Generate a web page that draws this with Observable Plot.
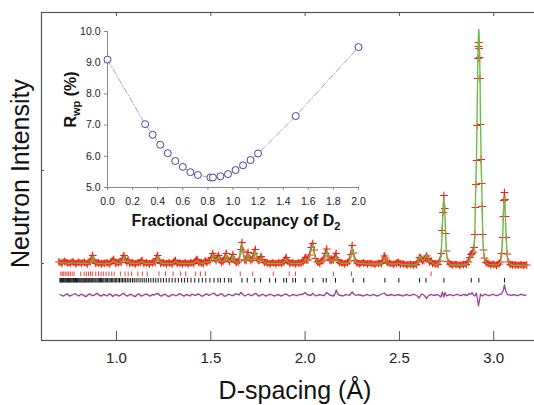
<!DOCTYPE html>
<html>
<head>
<meta charset="utf-8">
<script src="https://cdn.jsdelivr.net/npm/d3@7"></script>
<script src="https://cdn.jsdelivr.net/npm/@observablehq/plot@0.6"></script>
<style>
  html, body { margin: 0; padding: 0; background: #fff; }
  #wrap { position: relative; width: 534px; height: 405px; overflow: hidden; }
  #wrap svg { position: absolute; left: 0; top: 0; }
</style>
</head>
<body>
<div id="wrap"></div>
<script>
// ---------- main pattern data ----------
const xTicks = [1.0, 1.5, 2.0, 2.5, 3.0];
const yTicks = [77, 170];

// [d-spacing, calculated, observed]
const profile = [
  [0.695,78,78.5],[0.71,77.5,77],[0.725,78,79],[0.74,77,77.5],[0.755,77.5,77],[0.77,78,78.5],
  [0.785,77,76.5],[0.80,77.5,78],[0.815,77,77],[0.83,77.5,78],[0.845,77,76.5],[0.86,78,78.5],
  [0.868,81,81.5],[0.874,84,85],[0.88,80,80.5],[0.89,77.5,77],[0.905,77,77.5],[0.92,77,76.5],
  [0.935,76.5,77],[0.95,77,77.5],[0.965,77,76.5],[0.975,78.5,79],[0.986,80,81],[0.995,77.5,77],
  [1.01,77,77.5],[1.025,78,78],[1.033,81,82],[1.04,84,85],[1.047,80,80.5],[1.055,78.5,78],
  [1.062,80,80.5],[1.07,77.5,77],[1.085,77,77.5],[1.10,77,76.5],[1.115,77,77.5],[1.128,78,78],
  [1.136,79.5,80],[1.145,77.5,77],[1.16,77,77.5],[1.175,77,76.5],[1.19,77,77.5],[1.205,78,78],
  [1.212,81,82],[1.218,84,85],[1.225,80,80.5],[1.235,77.5,77],[1.25,77,77.5],[1.265,77,76.5],
  [1.28,77,77.5],[1.295,77,76.5],[1.305,78,78.5],[1.313,79.5,80],[1.322,77.5,77],[1.335,77,77.5],
  [1.35,77,76.5],[1.365,77,77.5],[1.38,77,76.5],[1.395,77,77.5],[1.41,77.5,77],[1.42,79,79.5],
  [1.428,80,81],[1.436,78,78],[1.45,77,77.5],[1.462,77.5,77],[1.472,79,79.5],[1.48,78,78],
  [1.495,79,79.5],[1.504,82,83],[1.511,86,87],[1.518,82,82.5],[1.528,80,80],[1.536,82,82.5],
  [1.542,84,85],[1.549,80,80.5],[1.558,78.5,78],[1.566,79,79.5],[1.576,82,82.5],[1.583,86,87],
  [1.59,81,81.5],[1.60,79,79],[1.611,81,81.5],[1.618,85,86],[1.625,80,80.5],[1.635,78,78],
  [1.645,78,78.5],[1.652,80,80.5],[1.66,90,91],[1.666,97,98],[1.672,89,89.5],[1.68,80,80.5],
  [1.688,80,80],[1.693,84,84.5],[1.698,87,88],[1.704,82,82.5],[1.712,80,80],[1.722,81,81.5],
  [1.73,86,87],[1.737,90,91],[1.744,82,82.5],[1.752,80,80],[1.76,80,80.5],[1.767,83,84],
  [1.774,81,81],[1.784,78,78],[1.80,77,77.5],[1.815,77,76.5],[1.83,77,77.5],[1.845,77,76.5],
  [1.86,77,77.5],[1.875,77,77],[1.888,78,78],[1.895,80.5,81],[1.901,82,83],[1.908,79,79.5],
  [1.92,77,77],[1.935,77,77.5],[1.95,77,76.5],[1.965,77,77.5],[1.978,77,77],[1.99,78,78.5],
  [1.997,80,81],[2.002,82,83],[2.008,80,80.5],[2.015,80,80.5],[2.025,85,85.5],[2.033,92,93],
  [2.041,96,97],[2.048,90,90.5],[2.055,82,82],[2.065,78,78.5],[2.078,77.5,77],[2.09,79,79.5],
  [2.10,81,81.5],[2.108,86,87],[2.115,90,91.5],[2.122,84,84.5],[2.132,80,80],[2.14,80,80.5],
  [2.15,80,80.5],[2.158,82,83],[2.165,84,87],[2.172,80,80.5],[2.182,78,78],[2.195,77,77.5],
  [2.21,77,76.5],[2.225,77,77.5],[2.235,79,79.5],[2.243,85,86],[2.25,93,95],[2.257,87,87.5],
  [2.265,80,80],[2.275,77.5,77.5],[2.29,77,76.5],[2.31,77,77.5],[2.33,76.5,76.5],[2.35,76.5,77],
  [2.37,76.5,76],[2.39,76.5,77],[2.405,77,77],[2.413,79,79.5],[2.42,83,84.5],[2.427,82,82.5],
  [2.435,78,78],[2.45,76.5,77],[2.47,76.5,76],[2.485,76.5,77],[2.495,77.5,78],[2.505,76.5,76.5],
  [2.52,76,76.5],[2.54,76,75.5],[2.56,75.5,76],[2.575,75.5,75.5],[2.59,76,76],[2.60,79,78.5],
  [2.607,84,83],[2.614,83,82.5],[2.622,80,80],[2.63,80,80],[2.638,83,82],[2.645,86,84.5],
  [2.652,82,82],[2.66,78.5,78.5],[2.668,79.5,79.5],[2.676,77,77],[2.69,76,76.5],[2.705,76.5,76],
  [2.715,79,79.5],[2.722,88,87],[2.727,108,110],[2.731,130,128],[2.736,143,145],[2.741,130,132],
  [2.745,108,107],[2.75,88,89.5],[2.757,79,79],[2.768,76,76.5],[2.78,75.5,75.5],[2.80,75.5,76],
  [2.82,75.5,75],[2.84,75.5,76],[2.855,76,76],[2.866,78,78.5],[2.874,82,83],[2.88,85,86],
  [2.886,86,87],[2.891,88,88.5],[2.896,92,93],[2.90,105,106],[2.903,135,133],[2.906,160,156],
  [2.909,185,180],[2.912,222,215],[2.915,270,262],[2.917,292,282],[2.919,305,294],[2.921,311,298],
  [2.923,305,292],[2.925,292,283],[2.927,270,262],[2.93,222,216],[2.933,185,181],[2.936,160,157],
  [2.939,135,134],[2.942,105,106],[2.946,90,90.5],[2.951,82,82.5],[2.959,78,78],[2.97,76.5,77],
  [2.985,75.5,75.5],[3.00,75.5,76],[3.015,75.5,75],[3.028,76.5,76.5],[3.036,78,78.5],[3.042,85,87],
  [3.047,100,103],[3.051,120,124],[3.054,135,140],[3.057,143,148],[3.06,135,141],[3.063,120,124],
  [3.067,100,103],[3.072,85,86.5],[3.078,78,78.5],[3.088,76,76],[3.10,75.5,75.5],[3.115,75,75.5],
  [3.13,75.5,75],[3.145,75,75.5],[3.16,75,75],[3.175,75,75.5]
];

// difference (obs - calc), drawn shifted down by diffOffset
const diffOffset = 45.5;
const diffCurve = [
  [0.70,0.5],[0.71,-0.5],[0.72,-1],[0.73,0.5],[0.74,1],[0.75,-1],[0.76,-0.5],[0.77,0.5],[0.78,1.5],
  [0.79,0],[0.80,-1],[0.81,0.5],[0.82,0.5],[0.83,-1],[0.84,-1.5],[0.85,0.5],[0.86,1],[0.87,-0.5],
  [0.88,-0.5],[0.89,1],[0.90,1.5],[0.91,-0.5],[0.92,-1],[0.93,0.5],[0.94,0],[0.95,-1],[0.96,1],
  [0.97,0.5],[0.98,-1.5],[0.99,0],[1.00,0.5],[1.01,-1],[1.02,-0.5],[1.03,1],[1.04,1.5],[1.05,-0.5],
  [1.06,-1],[1.07,0.5],[1.08,0.5],[1.09,-1],[1.10,-1.5],[1.11,0.5],[1.12,1],[1.13,-1],[1.14,-0.5],
  [1.15,0.5],[1.16,1],[1.17,-0.5],[1.18,-1],[1.19,0.5],[1.20,0],[1.21,1],[1.22,1.5],[1.23,-0.5],
  [1.24,-1],[1.25,0.5],[1.26,0.5],[1.27,-1],[1.28,-1.5],[1.29,0],[1.30,0.5],[1.31,-0.5],[1.32,-0.5],
  [1.33,1],[1.34,1],[1.35,-0.5],[1.36,-1],[1.37,0.5],[1.38,0],[1.39,-1],[1.40,1],[1.41,0],[1.42,-0.5],
  [1.43,1],[1.44,0.5],[1.45,-1],[1.46,-1],[1.47,0.5],[1.48,1],[1.49,-0.5],[1.50,0.5],[1.51,1.5],
  [1.52,1.5],[1.53,-0.5],[1.54,-0.5],[1.55,1],[1.56,1],[1.57,-1],[1.58,-1],[1.59,0.5],[1.60,0.5],
  [1.61,-0.5],[1.62,-0.5],[1.63,1],[1.64,1],[1.65,0],[1.66,2.5],[1.67,0.5],[1.68,-1],[1.69,0],
  [1.70,1],[1.71,-0.5],[1.72,-0.5],[1.73,1],[1.74,1.5],[1.75,-0.5],[1.76,-1],[1.77,0.5],[1.78,0.5],
  [1.79,-1],[1.80,-0.5],[1.81,0.5],[1.82,0.5],[1.83,-0.5],[1.84,-1],[1.85,0],[1.86,0.5],[1.87,-1],
  [1.88,-0.5],[1.89,0.5],[1.90,1],[1.91,-0.5],[1.92,-1],[1.93,0],[1.94,0.5],[1.95,-0.5],[1.96,-0.5],
  [1.97,0.5],[1.98,0.5],[1.99,1],[2.00,2.5],[2.01,0.5],[2.02,0],[2.03,-0.5],[2.04,1.5],[2.05,0],
  [2.06,-1],[2.07,0],[2.08,0.5],[2.09,-0.5],[2.10,-0.5],[2.115,2.5],[2.13,0],[2.14,-0.5],[2.15,-1],
  [2.158,1],[2.165,5],[2.172,1.5],[2.18,0],[2.19,-0.5],[2.20,-1],[2.21,0],[2.22,0.5],[2.235,-0.5],
  [2.25,3],[2.26,0.5],[2.27,-0.5],[2.28,0.5],[2.29,0],[2.30,-0.5],[2.31,-1],[2.32,0],[2.33,0.5],
  [2.34,-0.5],[2.35,-0.5],[2.36,0.5],[2.37,0],[2.38,-1],[2.39,-0.5],[2.40,0.5],[2.42,2],[2.43,0],
  [2.44,-0.5],[2.45,0],[2.46,0.5],[2.47,-0.5],[2.48,-0.5],[2.49,0.5],[2.50,0],[2.51,-0.5],[2.52,-1],
  [2.53,0],[2.54,0.5],[2.55,-0.5],[2.56,-0.5],[2.57,0.5],[2.58,0.5],[2.595,-1],[2.605,-3],[2.613,0],
  [2.62,1],[2.632,-0.5],[2.645,-3.5],[2.653,-1],[2.66,0],[2.67,0.5],[2.68,-0.5],[2.69,0],[2.70,0.5],
  [2.71,-0.5],[2.72,-2],[2.728,3],[2.735,-2],[2.742,2.5],[2.75,-1],[2.76,0],[2.77,0.5],[2.78,-0.5],
  [2.79,-0.5],[2.80,0.5],[2.81,0.5],[2.82,-0.5],[2.83,-0.5],[2.84,0.5],[2.85,0],[2.86,-0.5],[2.87,1.5],
  [2.878,0.5],[2.885,2.5],[2.893,0],[2.90,-1],[2.908,2],[2.914,-4],[2.919,-11],[2.924,-6],[2.93,1],
  [2.935,-0.5],[2.94,-1],[2.95,0.5],[2.96,0.5],[2.97,-0.5],[2.98,-0.5],[2.99,0.5],[3.00,0.5],
  [3.01,-0.5],[3.02,-0.5],[3.03,0.5],[3.04,1],[3.05,4],[3.057,10],[3.064,4],[3.07,1.5],[3.075,0],
  [3.08,0.5],[3.09,-0.5],[3.10,0],[3.11,0.5],[3.12,-0.5],[3.13,-0.5],[3.14,0.5],[3.15,0.5],[3.16,-0.5],[3.17,0]
];

// reflection markers
const redTickRow = [64, 68.5];
const blackTickRow = [57.5, 62];
const phase2Ticks = [0.705,0.712,0.72,0.728,0.737,0.746,0.755,0.765,0.775,0.81,0.828,0.84,0.852,0.862,
  0.872,0.89,0.905,0.918,0.93,0.945,0.96,0.975,0.988,1.022,1.045,1.062,1.08,1.113,1.137,1.163,1.225,
  1.26,1.30,1.34,1.367,1.42,1.445,1.472,1.656,1.722,1.831,1.916,1.949,2.150,2.246,2.668];
const phase1Ticks = [0.700,0.704,0.709,0.713,0.718,0.722,0.727,0.731,0.736,0.741,0.745,0.750,0.755,
  0.759,0.764,0.769,0.773,0.778,0.783,0.788,0.792,0.797,0.802,0.807,0.812,0.817,0.822,0.827,0.832,
  0.837,0.842,0.848,0.853,0.858,0.864,0.869,0.874,0.880,0.886,0.891,0.897,0.903,0.909,0.915,0.921,
  0.927,0.933,0.940,0.946,0.953,0.960,0.966,0.973,0.980,0.987,0.994,1.001,1.009,1.016,1.024,1.032,
  1.040,1.048,1.057,1.066,1.075,1.085,1.094,1.104,1.114,1.125,1.136,1.147,1.158,1.170,1.182,1.195,
  1.208,1.221,1.235,1.249,1.264,1.279,1.295,1.311,1.328,1.345,1.360,1.377,1.395,1.415,1.436,1.455,
  1.474,1.495,1.517,1.538,1.551,1.572,1.595,1.608,1.665,1.693,1.733,1.764,1.812,1.843,1.887,1.901,
  1.935,1.949,2.000,2.041,2.096,2.112,2.161,2.255,2.311,2.423,2.497,2.607,2.641,2.736,2.881,2.921,3.057];

// ---------- inset data ----------
const occupancy = [0.0,0.30,0.36,0.42,0.48,0.54,0.60,0.66,0.72,0.82,0.84,0.90,0.96,1.02,1.08,1.14,1.20,1.50,2.00];
const rwp = [9.10,7.03,6.69,6.37,6.10,5.85,5.66,5.49,5.40,5.32,5.32,5.36,5.43,5.56,5.71,5.88,6.09,7.29,9.50];
const insetXTicks = [0,0.2,0.4,0.6,0.8,1.0,1.2,1.4,1.6,1.8,2.0];
const insetYTicks = [5,6,7,8,9,10];

const fontFamily = "'Liberation Sans', Arial, Helvetica, sans-serif";
const fmt1 = d3.format(".1f");
const insetRows = occupancy.map((x, i) => ({x, r: rwp[i]}));
const bandHalf = 3; // half thickness of the observed-point band

const main = Plot.plot({
  width: 534, height: 405,
  marginLeft: 41, marginRight: -2, marginTop: 12, marginBottom: 65,
  x: {domain: [0.6023, 3.2269]},
  y: {domain: [0, 328]},
  style: {fontFamily, background: "transparent", color: "#222", overflow: "visible"},
  marks: [
    Plot.ruleX(phase2Ticks, {x: d => d, y1: redTickRow[0], y2: redTickRow[1], stroke: "#f2453a", strokeWidth: 1}),
    Plot.ruleX(phase1Ticks, {x: d => d, y1: blackTickRow[0], y2: blackTickRow[1], stroke: "#111", strokeWidth: 1}),
    Plot.line(diffCurve, {x: d => d[0], y: d => d[1] + diffOffset, stroke: "#9c3f9f", strokeWidth: 1.3}),
    Plot.areaY(profile, {x: d => d[0], y1: d => d[2] - bandHalf, y2: d => d[2] + bandHalf, fill: "#ff2a1f", fillOpacity: 0.9}),
    Plot.dot(profile, {x: d => d[0], y: d => d[2], symbol: "plus", r: 2.6, stroke: "#ff1a10", strokeWidth: 1}),
    Plot.line(profile, {x: d => d[0], y: d => d[1], stroke: "#66bb44", strokeWidth: 1.3}),
    Plot.frame({stroke: "#555", strokeWidth: 1.2}),
    Plot.axisX({ticks: xTicks, tickSize: -9, fill: "none", stroke: "#555", label: null}),
    Plot.axisX({anchor: "top", ticks: xTicks, tickSize: -3, fill: "none", stroke: "#555", label: null}),
    Plot.axisX({ticks: xTicks, tickSize: 0, tickPadding: 12, tickFormat: fmt1, fontSize: 15, label: null}),
    Plot.axisY({ticks: yTicks, tickSize: -3, fill: "none", stroke: "#555", label: null}),
    Plot.text(["D-spacing (Å)"], {text: d => d, frameAnchor: "bottom", textAnchor: "middle", lineAnchor: "middle", dy: 50, dx: 6, fontSize: 25, fill: "#111"}),
    Plot.text(["Neutron Intensity"], {text: d => d, frameAnchor: "left", textAnchor: "middle", lineAnchor: "middle", rotate: -90, dx: -21, dy: -3, fontSize: 25, fill: "#111"})
  ]
});

const inset = Plot.plot({
  width: 380, height: 235,
  marginLeft: 107, marginTop: 31, marginRight: 22, marginBottom: 48,
  x: {domain: [0, 2]},
  y: {domain: [5, 10]},
  style: {fontFamily, background: "transparent", color: "#222", overflow: "visible"},
  marks: [
    Plot.ruleX([0], {stroke: "#888"}),
    Plot.ruleY([5], {stroke: "#888"}),
    Plot.line(insetRows, {x: "x", y: "r", stroke: "#a3a3c8", strokeWidth: 1, strokeDasharray: "6,2,1,2"}),
    Plot.dot(insetRows, {x: "x", y: "r", r: 3.5, stroke: "#45459c", fill: "white", strokeWidth: 1}),
    Plot.axisX({ticks: insetXTicks, tickSize: 3, tickPadding: 7, tickFormat: fmt1, fontSize: 10.5, stroke: "#888", label: null}),
    Plot.axisY({ticks: insetYTicks, tickSize: 3, tickPadding: 4, tickFormat: fmt1, fontSize: 10.5, stroke: "#888", label: null}),
    Plot.text(["Fractional Occupancy of D2"], {text: d => d, frameAnchor: "bottom", textAnchor: "middle", lineAnchor: "middle", dy: 33, dx: 3, fontSize: 16, fontWeight: "bold", fill: "#111"}),
    Plot.text(["Rwp (%)"], {text: d => d, frameAnchor: "left", textAnchor: "middle", lineAnchor: "middle", rotate: -90, dx: -37, dy: -10, fontSize: 16, fontWeight: "bold", fill: "#111"})
  ]
});

const wrap = document.getElementById("wrap");
wrap.appendChild(main);
wrap.appendChild(inset);

// subscripts in the inset labels
d3.select(inset).selectAll("text").each(function() {
  const t = d3.select(this);
  const s = this.textContent;
  if (s === "Rwp (%)") {
    t.text(null);
    t.append("tspan").text("R");
    t.append("tspan").attr("font-size", "11px").attr("dy", "4").text("wp");
    t.append("tspan").attr("dy", "-4").text(" (%)");
  } else if (s === "Fractional Occupancy of D2") {
    t.text(null);
    t.append("tspan").text("Fractional Occupancy of D");
    t.append("tspan").attr("font-size", "11px").attr("dy", "4").text("2");
  }
});
</script>
</body>
</html>
